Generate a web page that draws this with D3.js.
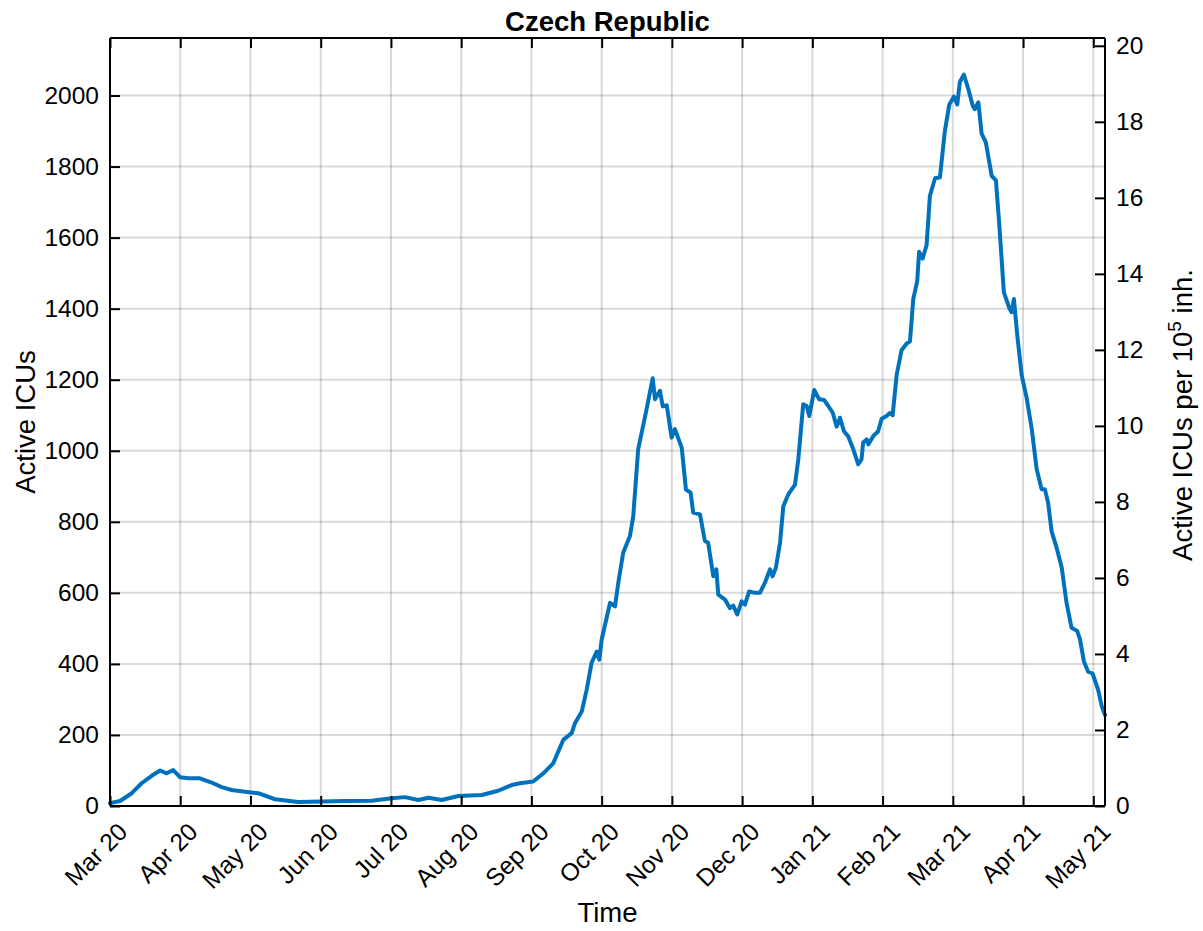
<!DOCTYPE html>
<html>
<head>
<meta charset="utf-8">
<script src="https://cdn.jsdelivr.net/npm/d3@7"></script>
<style>
  html, body { margin: 0; padding: 0; background: #fff; }
  svg text { font-family: "Liberation Sans", Arial, Helvetica, sans-serif; fill: #000; }
</style>
</head>
<body>
<svg id="chart" width="1203" height="931"></svg>
<script>
// ---- data (day index since 1 Mar 2020, active ICU patients) ----
const days = [0,4.3,9.3,13.5,17.8,21.4,24.2,27.0,29.9,33.4,38.4,43.4,47.7,52.0,57.7,63.3,70.5,80.4,90.4,100.4,111.8,120.3,126,131.7,136,141.7,148.8,158.8,165.8,171.6,175.1,180.8,185.1,189.3,193.6,197.2,198.6,201.5,203.6,205.7,207.9,209,210,213.6,215.7,217.1,219.2,222.1,223.5,225.6,229.2,231.8,232.8,234.9,236.1,237.8,239.9,241.3,244.2,246,248,249.1,252,254.1,255.5,257.7,259,259.8,262.7,264.8,266.2,267.9,269.8,271.2,273,275.5,277.6,279.7,281.9,283,284.4,286.2,287.6,289.7,292.6,294,296.1,297.6,298.7,300.8,302.9,305,306.8,308.7,310.4,311.8,313.5,315.3,317.5,319.6,321,321.7,323.2,323.9,326,328.1,329.6,331.7,333.1,334.3,336,338.1,340.3,341.7,343.1,344.8,345.6,347.1,348.8,350.2,352.4,354.5,356.6,358.5,360.5,361.9,363,364.7,366.6,368.5,369.4,370.9,372.3,374.1,376.6,378.4,379.8,381.8,384.1,385.1,386.1,387.5,389.4,391.5,393.7,395.8,397.9,399.3,400.7,402.2,404.3,406.5,408.6,410.7,413.1,414.3,416,417.8,419.7,422.1,423.6,425];
const icus = [8,14,36,64,85,100,92,101,81,78,78,66,53,45,40,36,19,11,13,14,15,22,25,17,23,17,28,31,43,59,64,69,92,120,186,205,233,266,327,403,435,412,468,572,562,628,713,760,816,1004,1117,1204,1145,1169,1125,1128,1037,1061,1009,891,882,826,821,746,741,647,666,595,581,557,564,539,576,567,604,600,600,628,666,647,670,741,844,877,905,976,1131,1126,1098,1171,1145,1143,1126,1107,1068,1093,1055,1041,1004,962,976,1023,1032,1018,1041,1055,1090,1098,1106,1100,1213,1283,1302,1308,1427,1478,1560,1541,1579,1717,1767,1770,1900,1975,1997,1975,2038,2059,2019,1971,1962,1981,1893,1868,1774,1761,1641,1446,1402,1390,1427,1327,1213,1150,1062,949,892,892,854,773,728,672,571,502,493,470,407,378,373,326,281,256];
const xTickDays = [0,30,60,90,120,150,180,210,240,270,300,330,360,390,420];
const xTickLabels = ["Mar 20","Apr 20","May 20","Jun 20","Jul 20","Aug 20","Sep 20","Oct 20","Nov 20","Dec 20","Jan 21","Feb 21","Mar 21","Apr 21","May 21"];
const yLeftTicks = [0,200,400,600,800,1000,1200,1400,1600,1800,2000];
const yRightTicks = [0,2,4,6,8,10,12,14,16,18,20];
const population = 10.7e6;
const titleText = "Czech Republic";

// ---- layout ----
const L = 110, R = 1105, T = 38, B = 806;
const svg = d3.select("#chart");

const x = d3.scaleLinear().domain([0, 425]).range([L, R]);
const yMax = 1.05 * d3.max(icus);
const y = d3.scaleLinear().domain([0, yMax]).range([B, T]);
const y2 = d3.scaleLinear().domain([0, yMax * 1e5 / population]).range([B, T]);

// grid
const grid = svg.append("g");
grid.selectAll("line.v").data(xTickDays).join("line")
  .attr("x1", d => x(d)).attr("x2", d => x(d)).attr("y1", T).attr("y2", B)
  .attr("stroke", "#000").attr("stroke-opacity", 0.15).attr("stroke-width", 2);
grid.selectAll("line.h").data(yLeftTicks).join("line")
  .attr("x1", L).attr("x2", R).attr("y1", d => y(d)).attr("y2", d => y(d))
  .attr("stroke", "#000").attr("stroke-opacity", 0.15).attr("stroke-width", 2);

// line
const pts = days.map((d, i) => [d, icus[i]]);
svg.append("path").datum(pts)
  .attr("fill", "none").attr("stroke", "#0072BD").attr("stroke-width", 4)
  .attr("stroke-linejoin", "round").attr("stroke-linecap", "round")
  .attr("d", d3.line().x(d => x(d[0])).y(d => y(d[1])));

// axes (inner ticks)
const tickLen = 10;
const fs = 24.5;
const axL = svg.append("g").attr("transform", `translate(${L},0)`)
  .call(d3.axisLeft(y).tickValues(yLeftTicks).tickFormat(d3.format("d")).tickSizeInner(-tickLen).tickSizeOuter(0).tickPadding(11));
const axR = svg.append("g").attr("transform", `translate(${R},0)`)
  .call(d3.axisRight(y2).tickValues(yRightTicks).tickFormat(d3.format("d")).tickSizeInner(-tickLen).tickSizeOuter(0).tickPadding(11));
const axB = svg.append("g").attr("transform", `translate(0,${B})`)
  .call(d3.axisBottom(x).tickValues(xTickDays).tickFormat((d, i) => xTickLabels[i]).tickSizeInner(-tickLen).tickSizeOuter(0));
const axT = svg.append("g").attr("transform", `translate(0,${T})`)
  .call(d3.axisTop(x).tickValues(xTickDays).tickFormat("").tickSizeInner(-tickLen).tickSizeOuter(0));

[axL, axR, axB, axT].forEach(a => {
  a.select(".domain").attr("stroke", "#000").attr("stroke-width", 2);
  a.selectAll(".tick line").attr("stroke", "#000").attr("stroke-width", 2);
  a.selectAll("text").attr("font-size", fs).attr("font-family", '"Liberation Sans", Arial, sans-serif').attr("fill", "#000");
});
axB.selectAll(".domain").attr("d", `M${L},0H${R}`);
axT.selectAll(".domain").attr("d", `M${L},0H${R}`);
axL.selectAll(".domain").attr("d", `M0,${B}V${T}`);
axR.selectAll(".domain").attr("d", `M0,${B}V${T}`);

axB.selectAll(".tick text")
  .attr("text-anchor", "end")
  .attr("dy", null).attr("y", null)
  .attr("transform", "translate(6,15) rotate(-45)")
  .attr("dominant-baseline", "hanging")
  .attr("fill", "#262626");

// titles
const lfs = 27.5;
svg.append("text").attr("x", (L + R) / 2).attr("y", 31).attr("text-anchor", "middle")
  .attr("font-size", lfs).attr("font-weight", "bold").text(titleText);
svg.append("text").attr("x", (L + R) / 2).attr("y", 922).attr("text-anchor", "middle")
  .attr("font-size", lfs).attr("fill", "#262626").text("Time");
svg.append("text").attr("transform", `translate(35,${(T + B) / 2}) rotate(-90)`).attr("text-anchor", "middle")
  .attr("font-size", lfs).text("Active ICUs");
const rl = svg.append("text").attr("transform", `translate(1192,415) rotate(-90)`).attr("text-anchor", "middle")
  .attr("font-size", lfs);
rl.append("tspan").text("Active ICUs per 10");
rl.append("tspan").attr("dy", -11).attr("font-size", 19).text("5");
rl.append("tspan").attr("dy", 11).text(" inh.");
</script>
</body>
</html>
